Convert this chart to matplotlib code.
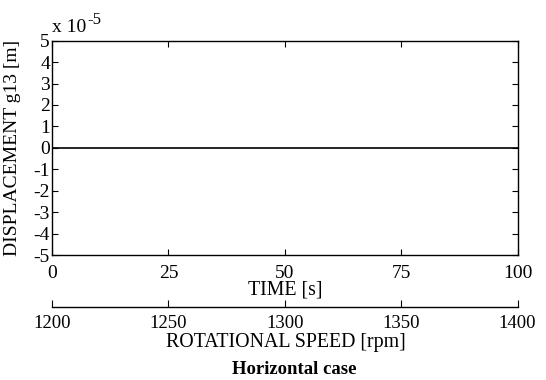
import matplotlib

matplotlib.use("Agg")
import matplotlib.pyplot as plt

# data
time_s = [0, 100]
displacement = [0.0, 0.0]  # units of 1e-5 m
time_ticks = [0, 25, 50, 75, 100]
disp_ticks = [-5, -4, -3, -2, -1, 0, 1, 2, 3, 4, 5]
speed_ticks = [1200, 1250, 1300, 1350, 1400]

plt.rcParams["font.family"] = ["Liberation Serif", "DejaVu Serif"]
plt.rcParams["font.size"] = 14
plt.rcParams["axes.unicode_minus"] = False

W, H = 546, 380
fig = plt.figure(figsize=(W / 100, H / 100), dpi=100)

L, R, T, B = 52, 517.5, 40.7, 255
ax = fig.add_axes([L / W, 1 - B / H, (R - L) / W, (B - T) / H])
ax.plot(time_s, displacement, color="black", lw=1.2)
ax.set_xlim(0, 100)
ax.set_ylim(-5, 5)
ax.set_xticks(time_ticks)
ax.set_yticks(disp_ticks)
ax.tick_params(direction="in", top=True, right=True, length=4, width=0.8)
ax.tick_params(axis="x", pad=7)
ax.tick_params(axis="y", pad=1.5)
for s in ax.spines.values():
    s.set_linewidth(1.0)
ax.set_ylabel("DISPLACEMENT g13 [m]")
ax.yaxis.set_label_coords((21 - L) / (R - L), 0.5)
ax.set_xlabel("TIME [s]", fontsize=14.3)
ax.xaxis.set_label_coords(0.5, (B - 290) / (B - T))
ax.xaxis.label.set_va("center")

# exponent note
ax.text(0.0, (B - 32) / (B - T), "x 10", transform=ax.transAxes, ha="left", va="baseline")
ax.text((87 - L) / (R - L), (B - 24) / (B - T), "-5", transform=ax.transAxes,
        ha="left", va="baseline", fontsize=12)

# secondary speed axis
ax2 = fig.add_axes([L / W, 1 - 307 / H, (R - L) / W, 0.001])
ax2.set_xlim(1200, 1400)
ax2.set_xticks(speed_ticks)
ax2.set_yticks([])
for k in ["top", "left", "right"]:
    ax2.spines[k].set_visible(False)
ax2.spines["bottom"].set_linewidth(1.0)
ax2.tick_params(axis="x", direction="in", length=5, width=0.8, pad=6, labelsize=13.5)
ax2.patch.set_alpha(0)
fig.text(286 / W, 1 - 343 / H, "ROTATIONAL SPEED [rpm]", ha="center", va="center",
         fontsize=14.3)

fig.text(294 / W, 1 - 369 / H, "Horizontal case", ha="center", va="center",
         fontweight="bold", fontsize=13.5)

fig.savefig("out.png", dpi=100)
